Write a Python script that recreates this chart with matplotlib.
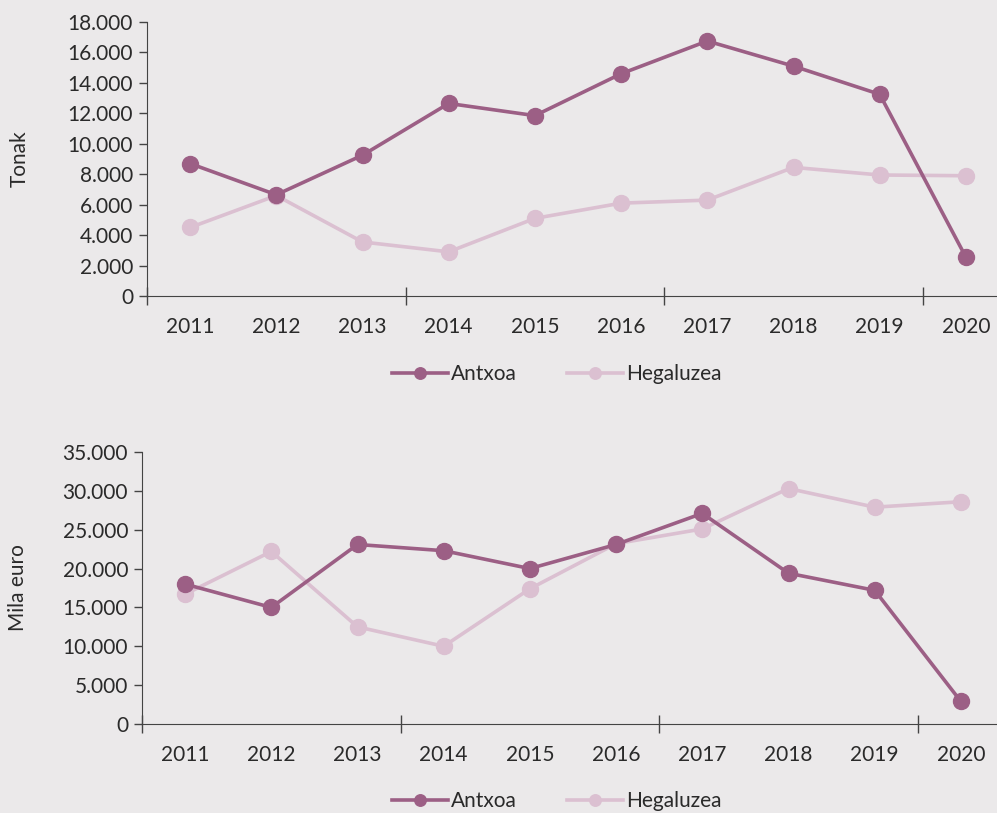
import matplotlib
matplotlib.use("Agg")
import matplotlib.pyplot as plt
from matplotlib.ticker import FuncFormatter, FixedLocator

years = ["2011", "2012", "2013", "2014", "2015", "2016", "2017", "2018", "2019", "2020"]
tonak_antxoa = [8700, 6650, 9250, 12650, 11850, 14600, 16750, 15100, 13250, 2550]
tonak_hegaluzea = [4500, 6600, 3550, 2900, 5100, 6100, 6300, 8450, 7950, 7900]
euro_antxoa = [18000, 15000, 23100, 22300, 20000, 23100, 27100, 19400, 17200, 2900]
euro_hegaluzea = [16700, 22200, 12500, 10000, 17400, 23200, 25100, 30300, 27900, 28600]

c_ant = "#9c5f85"
c_heg = "#dbc0d1"
bg = "#ebe9ea"
txt = "#2a2a2a"

plt.rcParams['font.family'] = ['Lato', 'DejaVu Sans']

W, H = 997, 813
fig = plt.figure(figsize=(W / 100, H / 100), dpi=100, facecolor=bg)

def fmt(v, pos):
    return f"{int(v):,}".replace(",", ".")

FS = 15

def make_axes(left, top_px, bottom_px, ymax, ystep, ylabel, a, h, legend_y, ylabel_x):
    ax = fig.add_axes([left / W, 1 - bottom_px / H, (W - left) / W, (bottom_px - top_px) / H])
    ax.set_facecolor(bg)
    x = list(range(len(years)))
    ax.plot(x, h, color=c_heg, lw=2.6, marker="o", ms=11.5, label="Hegaluzea", zorder=2)
    ax.plot(x, a, color=c_ant, lw=2.6, marker="o", ms=11.5, label="Antxoa", zorder=3)
    ax.set_ylim(0, ymax)
    ax.set_xlim(-0.5, (W - left) / 86.2 - 0.5)
    ax.yaxis.set_major_locator(FixedLocator(list(range(0, ymax + 1, ystep))))
    ax.yaxis.set_major_formatter(FuncFormatter(fmt))
    ax.xaxis.set_major_locator(FixedLocator([-0.5, 2.5, 5.5, 8.5]))
    ax.xaxis.set_minor_locator(FixedLocator(x))
    ax.set_xticklabels([], minor=False)
    ax.set_xticklabels(years, minor=True)
    ax.tick_params(axis="x", which="major", direction="inout", length=13, width=1, color="#444444")
    ax.tick_params(axis="x", which="minor", length=0, pad=15, labelsize=FS, labelcolor=txt)
    ax.tick_params(axis="y", direction="out", length=6, width=1, color="#444444", labelsize=FS, labelcolor=txt, pad=4)
    for s in ["top", "right"]:
        ax.spines[s].set_visible(False)
    ax.spines["left"].set_color("#444444")
    ax.spines["bottom"].set_color("#444444")
    fig.text(ylabel_x / W, 1 - (top_px + bottom_px) / 2 / H, ylabel, rotation=90, ha="center", va="center",
             fontsize=FS, color=txt)
    hs, ls = ax.get_legend_handles_labels()
    fig.legend(hs[::-1], ls[::-1], loc="center", bbox_to_anchor=(557 / W, 1 - legend_y / H), ncol=2,
               frameon=False, fontsize=FS, handlelength=2.7, handletextpad=0.15, columnspacing=2.4,
               labelcolor=txt, markerscale=0.72)
    return ax

make_axes(147, 22, 296, 18000, 2000, "Tonak", tonak_antxoa, tonak_hegaluzea, 374, 20)
make_axes(142, 452, 724, 35000, 5000, "Mila euro", euro_antxoa, euro_hegaluzea, 801, 18)

fig.savefig("out.png", dpi=100, facecolor=bg)
